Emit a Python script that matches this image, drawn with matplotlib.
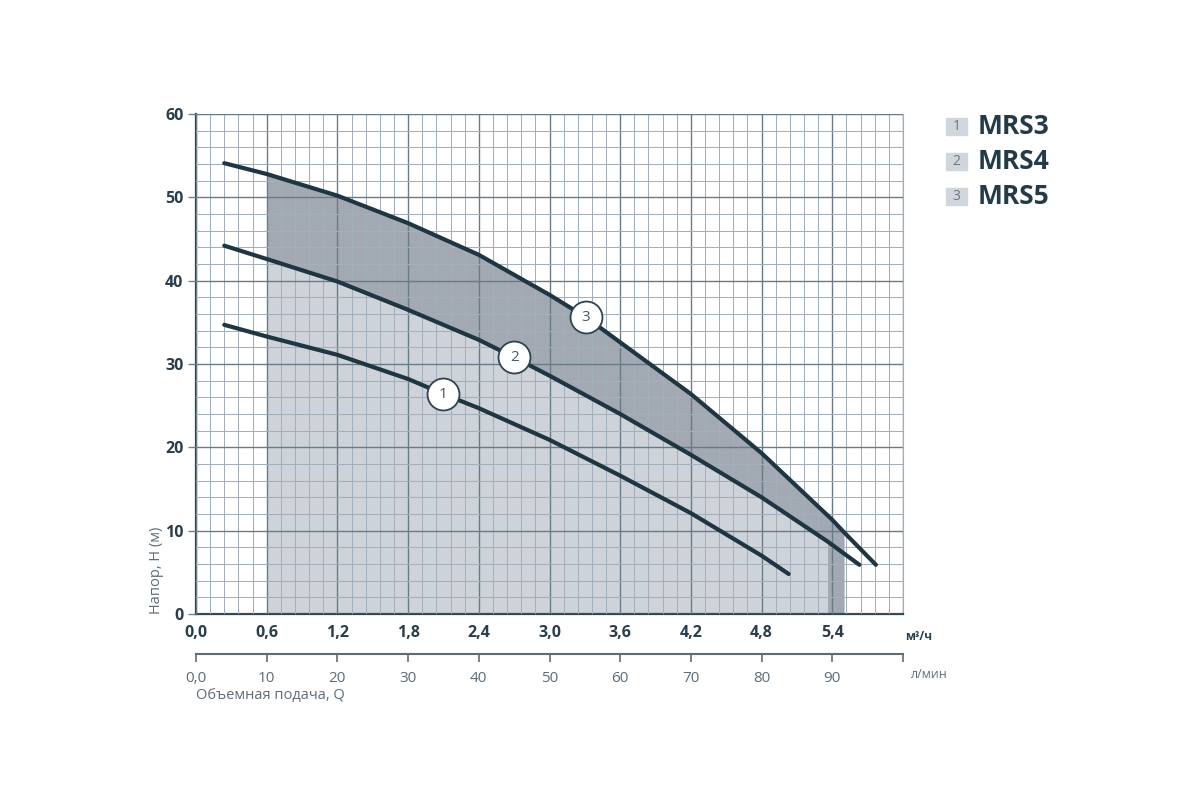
import numpy as np
import matplotlib
matplotlib.use("Agg")
import matplotlib.pyplot as plt
from matplotlib.ticker import FixedLocator, FixedFormatter

plt.rcParams['font.family'] = ['Open Sans', 'DejaVu Sans']

# расход, м3/ч  ->  напор, м
q_mrs3 = [0.24, 0.6, 1.2, 1.8, 2.1, 2.4, 3.0, 3.6, 4.2, 4.8, 5.03]
h_mrs3 = [34.7, 33.3, 31.1, 28.2, 26.4, 24.7, 20.9, 16.6, 12.1, 7.0, 4.8]

q_mrs4 = [0.24, 0.6, 1.2, 1.8, 2.4, 2.7, 3.0, 3.6, 4.2, 4.8, 5.36, 5.63]
h_mrs4 = [44.2, 42.6, 39.9, 36.5, 32.9, 30.8, 28.6, 24.0, 19.1, 14.0, 8.7, 5.9]

q_mrs5 = [0.24, 0.6, 1.2, 1.8, 2.4, 3.0, 3.31, 3.6, 4.2, 4.8, 5.4, 5.5, 5.77]
h_mrs5 = [54.1, 52.8, 50.2, 46.9, 43.1, 38.3, 35.6, 32.6, 26.4, 19.3, 11.3, 9.8, 5.9]

# рабочие зоны (индексы точек кривых)
zone4 = slice(1, 11)   # 0,6 ... 5,36
zone5 = slice(1, 12)   # 0,6 ... 5,5

models = ['MRS3', 'MRS4', 'MRS5']
marks = ['1', '2', '3']
mark_q = [2.10, 2.70, 3.31]
mark_h = [26.4, 30.8, 35.6]

q_ticks = [0.0, 0.6, 1.2, 1.8, 2.4, 3.0, 3.6, 4.2, 4.8, 5.4, 6.0]
q_labels = ['0,0', '0,6', '1,2', '1,8', '2,4', '3,0', '3,6', '4,2', '4,8', '5,4', '']
l_ticks = [0, 10, 20, 30, 40, 50, 60, 70, 80, 90, 100]
l_labels = ['0,0', '10', '20', '30', '40', '50', '60', '70', '80', '90', '']
h_ticks = [0, 10, 20, 30, 40, 50, 60]

dark = '#1f3542'
txt_dark = '#2a3d4a'
txt_grey = '#5d6c78'

fig = plt.figure(figsize=(12, 8), dpi=100)
ax = fig.add_axes([196 / 1200, 1 - 614 / 800, 707 / 1200, 500 / 800])

# заливки рабочих зон
ax.fill_between(q_mrs5[zone5], h_mrs5[zone5], 0, color='#a2a9b2', lw=0, zorder=1)
ax.fill_between(q_mrs4[zone4], h_mrs4[zone4], 0, color='#cdd3d9', lw=0, zorder=1.2)

for q, h in [(q_mrs3, h_mrs3), (q_mrs4, h_mrs4), (q_mrs5, h_mrs5)]:
    ax.plot(q, h, color=dark, lw=3, solid_capstyle='round', solid_joinstyle='round',
            zorder=4)

ax.plot(mark_q, mark_h, 'o', ms=23, mfc='white', mec='#2d4350', mew=1.3, zorder=5)
for m, q, h in zip(marks, mark_q, mark_h):
    ax.text(q, h, m, ha='center', va='center', fontsize=11, color='#4a5a66', zorder=6)

ax.set_xlim(0, 6)
ax.set_ylim(0, 60)
ax.xaxis.set_major_locator(FixedLocator(q_ticks))
ax.xaxis.set_major_formatter(FixedFormatter(q_labels))
ax.xaxis.set_minor_locator(FixedLocator(np.arange(0, 6.01, 0.12)))
ax.yaxis.set_major_locator(FixedLocator(h_ticks))
ax.yaxis.set_minor_locator(FixedLocator(np.arange(0, 60.1, 2)))

ax.set_axisbelow(False)
ax.grid(which='major', color='#6a7b88', lw=1.0, zorder=2.5)
ax.grid(which='minor', color='#a3afba', lw=0.75, zorder=2.4)

ax.tick_params(axis='x', which='both', length=0, pad=8, labelsize=11.5,
               labelcolor=txt_dark)
ax.tick_params(axis='y', which='major', length=6, width=1, color='#6f808d', pad=3,
               labelsize=11.5, labelcolor=txt_dark)
ax.tick_params(axis='y', which='minor', length=0)
for lab in ax.get_xticklabels() + ax.get_yticklabels():
    lab.set_fontweight('bold')

ax.spines['left'].set_color('#2f4350')
ax.spines['left'].set_linewidth(1.6)
ax.spines['bottom'].set_color('#2f4350')
ax.spines['bottom'].set_linewidth(1.6)
ax.spines['top'].set_color('#b5c0c8')
ax.spines['right'].set_color('#a3afba')
ax.spines['right'].set_linewidth(0.8)

# вторая шкала, л/мин
sec = ax.secondary_xaxis(-0.08, functions=(lambda x: x * 1000 / 60,
                                           lambda x: x * 60 / 1000))
sec.xaxis.set_major_locator(FixedLocator(l_ticks))
sec.xaxis.set_major_formatter(FixedFormatter(l_labels))
sec.tick_params(length=6, width=1.2, color=txt_grey, pad=6, labelsize=11,
                labelcolor=txt_grey)
sec.spines['bottom'].set_color(txt_grey)
sec.spines['bottom'].set_linewidth(1.5)

fig.text(905 / 1200, 1 - 636 / 800, 'м³/ч', fontsize=8.5, fontweight='bold',
         color=txt_dark, va='center')
fig.text(911 / 1200, 1 - 675 / 800, 'л/мин', fontsize=9, color=txt_grey, va='center')
fig.text(196 / 1200, 1 - 695 / 800, 'Объемная подача, Q', fontsize=10.5,
         color=txt_grey, va='center')
fig.text(157 / 1200, 1 - 614 / 800, 'Напор, H (м)', rotation=90, fontsize=10.5,
         color=txt_grey, ha='center', va='bottom')

# легенда
for i, (m, name) in enumerate(zip(marks, models)):
    yc = 1 - (126.5 + 35 * i) / 800
    fig.patches.append(plt.Rectangle((946 / 1200, yc - 8.5 / 800), 21 / 1200, 17 / 800,
                                     transform=fig.transFigure, color='#d0d6dc'))
    fig.text(956.5 / 1200, yc, m, ha='center', va='center', fontsize=10,
             color='#6a7782')
    fig.text(978 / 1200, yc, name, ha='left', va='center', fontsize=19,
             fontweight='bold', color='#233b48')

fig.savefig('out.png', dpi=100)
